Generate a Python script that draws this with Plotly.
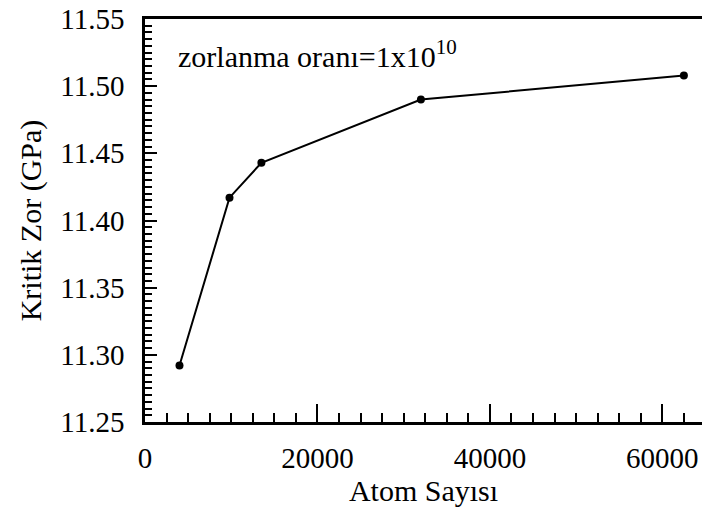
import plotly.graph_objects as go

# ── Data ──────────────────────────────────────────────────────────
atom_sayisi = [4000, 9800, 13500, 32000, 62500]
kritik_zor = [11.292, 11.417, 11.443, 11.490, 11.508]

x_ticks = [0, 20000, 40000, 60000]
y_ticks = [11.25, 11.30, 11.35, 11.40, 11.45, 11.50, 11.55]

FONT = "Liberation Serif, Times New Roman, serif"
BLACK = "#000000"

fig = go.Figure()
fig.add_trace(go.Scatter(
    x=atom_sayisi, y=kritik_zor,
    mode="lines+markers",
    line=dict(color=BLACK, width=2),
    marker=dict(size=8, color=BLACK),
    showlegend=False,
))

fig.update_layout(
    width=702, height=511,
    paper_bgcolor="white", plot_bgcolor="white",
    font=dict(family=FONT, color=BLACK, size=30),
    margin=dict(l=145, r=0, t=19, b=89),
    annotations=[dict(
        text="zorlanma oranı=1x10<sup>10</sup>",
        xref="paper", yref="paper", x=0.055, y=0.966,
        xanchor="left", yanchor="top", showarrow=False,
        font=dict(family=FONT, size=30, color=BLACK),
    )],
)

fig.update_xaxes(
    range=[0, 64600],
    tickvals=x_ticks, ticktext=[str(v) for v in x_ticks],
    tickfont=dict(family=FONT, size=29, color=BLACK),
    ticks="inside", ticklen=18, tickwidth=2, tickcolor=BLACK,
    minor=dict(dtick=2500, ticks="inside", ticklen=9, tickwidth=1.5, tickcolor=BLACK),
    showline=True, linewidth=2.5, linecolor=BLACK, mirror=True,
    showgrid=False, zeroline=False,
    ticklabelstandoff=8, ticklabeloverflow="allow",
    title=dict(text="Atom Sayısı", font=dict(family=FONT, size=30), standoff=3),
)
fig.update_yaxes(
    range=[11.25, 11.55],
    tickvals=y_ticks, ticktext=[f"{v:.2f}" for v in y_ticks],
    tickfont=dict(family=FONT, size=29, color=BLACK),
    ticks="inside", ticklen=12, tickwidth=2, tickcolor=BLACK,
    minor=dict(dtick=0.005, ticks="inside", ticklen=7, tickwidth=1.5, tickcolor=BLACK),
    showline=True, linewidth=2.5, linecolor=BLACK, mirror=False,
    showgrid=False, zeroline=False,
    ticklabelstandoff=12, ticklabeloverflow="allow",
    title=dict(text="Kritik Zor (GPa)", font=dict(family=FONT, size=30), standoff=10),
)

# drop the default 8px page margin so the figure fills the window exactly
fig.write_html(
    "out.html",
    config={"displayModeBar": False},
    post_script="document.body.style.margin='0';",
)
